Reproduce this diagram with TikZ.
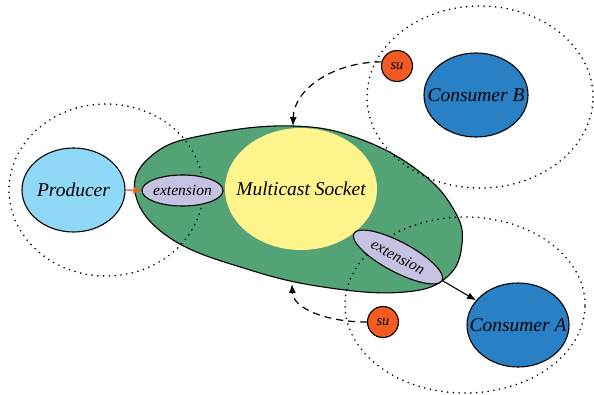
\documentclass[tikz,border=0pt]{standalone}
\usepackage{fontspec}
\setmainfont{Liberation Serif}
\usetikzlibrary{shapes.geometric,arrows.meta}
\definecolor{msgreen}{RGB}{84,163,118}
\definecolor{msyellow}{RGB}{255,245,140}
\definecolor{lav}{RGB}{197,195,225}
\definecolor{suorange}{RGB}{242,92,34}
\definecolor{lightblue}{RGB}{143,216,248}
\definecolor{consblue}{RGB}{42,128,197}
\begin{document}
\begin{tikzpicture}[x=1pt,y=-1pt,
  bigtext/.style={font=\fontsize{19.5}{20}\selectfont\itshape,inner sep=0pt},
  smalltext/.style={font=\fontsize{15.5}{16}\selectfont\itshape,inner sep=0pt},
  blob/.style={ellipse,draw=black,line width=1.1pt,inner sep=0pt},
  extbox/.style={ellipse,draw=black,line width=1.1pt,fill=lav,inner sep=0pt},
  subox/.style={circle,draw=black,line width=1.1pt,fill=suorange,inner sep=0pt,minimum size=31pt,font=\fontsize{14.5}{15}\selectfont\itshape},
  dotring/.style={line width=1.8pt,line cap=round,dash pattern=on 0pt off 5.8pt},
  dasharrow/.style={line width=1.2pt,dash pattern=on 7pt off 5pt,-{Latex[length=9pt,width=7pt]}}]
\useasboundingbox (0,0) rectangle (594,395);
% multicast socket body
\filldraw[fill=msgreen,draw=black,line width=1.1pt] plot[smooth cycle,tension=0.7] coordinates {
  (135,192) (155,153) (210,134) (293,126) (360,139) (420,172) (454,210)
  (462,244) (447,277) (405,292) (330,288) (250,270) (170,238)};
\coordinate (gtop) at (293,126);
\coordinate (gbot) at (292,284);
% dotted rings
\draw[dotring] (106,190) ellipse [x radius=97pt, y radius=86pt];
\draw[dotring] (480,97) ellipse [x radius=113pt, y radius=91pt];
\draw[dotring] (465,305) ellipse [x radius=120pt, y radius=88pt];
% nodes
\node[ellipse,fill=msyellow,inner sep=0pt,minimum width=152pt,minimum height=122pt,
  label={[bigtext]center:Multicast Socket}] (ms) at (301,189) {};
\node[blob,fill=lightblue,minimum width=103pt,minimum height=84pt,
  label={[bigtext]center:Producer}] (prod) at (73.5,190) {};
\node[blob,fill=consblue,minimum width=104pt,minimum height=84pt,
  label={[bigtext]center:Consumer B}] (consB) at (476,95) {};
\node[blob,fill=consblue,minimum width=102pt,minimum height=84pt,
  label={[bigtext]center:Consumer A}] (consA) at (518,325) {};
\node[extbox,minimum width=81pt,minimum height=31pt,
  label={[smalltext]center:extension}] (ext1) at (182.5,190.5) {};
\node[extbox,minimum width=100pt,minimum height=30pt,rotate=-28,
  label={[smalltext,rotate=-28]center:extension}] (ext2) at (398,257) {};
\node[subox] (su1) at (397,66) {su};
\node[subox] (su2) at (383,322) {su};
% connectors
\draw[line width=1.3pt,draw=suorange,-{Latex[length=8pt,width=8pt]}] (prod.east) -- (ext1.west);
\draw[line width=1.1pt,-{Latex[length=9pt,width=7pt]}] (ext2.east) -- (consA);
\draw[dasharrow] (su1.165) .. controls (335,62) and (294,88) .. (gtop);
\draw[dasharrow] (su2.west) .. controls (325,322) and (293,308) .. (gbot);
\end{tikzpicture}
\end{document}
